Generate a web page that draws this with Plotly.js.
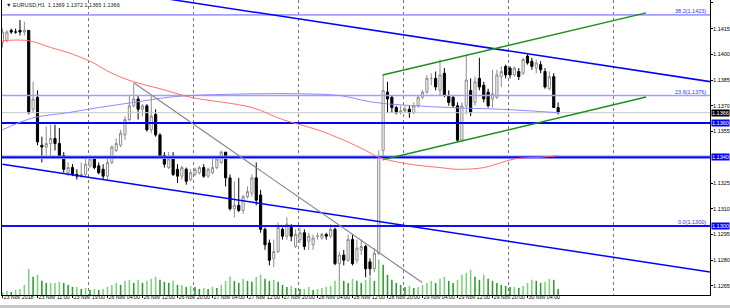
<!DOCTYPE html>
<html><head><meta charset="utf-8">
<script src="https://cdn.plot.ly/plotly-3.0.1.min.js"></script>
<style>html,body{margin:0;padding:0;background:#fff}#chart{width:730px;height:308px}</style>
</head><body><div id="chart"></div>
<script>
// bar index: 0 = 26 Nov 00:00 (H1 bars), first bar -20 = 23 Nov 03:00
const barStart = -20;
const openP = [
 1.1407,1.1408,1.1414,1.1413,1.1414,1.1413,1.1414,1.1368,
 1.1375,1.1347,1.1346,1.1348,1.1351,1.1348,1.1341,1.1331,
 1.1334,1.1330,1.1329,1.1330,1.1335,1.1339,1.1335,1.1333,
 1.1329,1.1337,1.1344,1.1347,1.1353,1.1362,1.1370,1.1374,
 1.1368,1.1370,1.1356,1.1365,1.1353,1.1341,1.1334,1.1340,
 1.1333,1.1329,1.1333,1.1327,1.1330,1.1331,1.1334,1.1329,
 1.1331,1.1334,1.1337,1.1343,1.1328,1.1310,1.1312,1.1309,
 1.1317,1.1319,1.1328,1.1318,1.1298,1.1290,1.1281,1.1285,
 1.1298,1.1294,1.1299,1.1288,1.1292,1.1296,1.1291,1.1289,
 1.1294,1.1293,1.1295,1.1294,1.1298,1.1278,1.1283,1.1280,
 1.1292,1.1280,1.1286,1.1288,1.1279,1.1275,1.1284,1.1344,
 1.1378,1.1375,1.1369,1.1366,1.1367,1.1368,1.1366,1.1370,
 1.1375,1.1378,1.1386,1.1386,1.1379,1.1389,1.1376,1.1375,
 1.1370,1.1350,1.1370,1.1379,1.1372,1.1386,1.1382,1.1378,
 1.1374,1.1375,1.1387,1.1393,1.1392,1.1388,1.1390,1.1389,
 1.1399,1.1396,1.1392,1.1394,1.1390,1.1380,1.1387,1.1369];
const highP = [
 1.1415,1.1414,1.1415,1.1415,1.1420,1.1419,1.1414,1.1384,
 1.1379,1.1352,1.1358,1.1359,1.1359,1.1357,1.1343,1.1337,
 1.1336,1.1333,1.1337,1.1339,1.1341,1.1340,1.1337,1.1336,
 1.1340,1.1347,1.1351,1.1356,1.1364,1.1376,1.1383,1.1376,
 1.1371,1.1371,1.1376,1.1368,1.1354,1.1343,1.1343,1.1343,
 1.1336,1.1335,1.1334,1.1333,1.1334,1.1335,1.1336,1.1334,
 1.1339,1.1340,1.1344,1.1343,1.1330,1.1326,1.1328,1.1318,
 1.1323,1.1330,1.1337,1.1321,1.1299,1.1292,1.1292,1.1302,
 1.1299,1.1305,1.1301,1.1298,1.1299,1.1298,1.1296,1.1295,
 1.1296,1.1296,1.1296,1.1301,1.1299,1.1285,1.1286,1.1295,
 1.1295,1.1292,1.1292,1.1289,1.1281,1.1287,1.1344,1.1388,
 1.1384,1.1376,1.1370,1.1370,1.1370,1.1370,1.1372,1.1376,
 1.1379,1.1388,1.1389,1.1390,1.1397,1.1392,1.1379,1.1376,
 1.1372,1.1372,1.1400,1.1386,1.1387,1.1398,1.1384,1.1380,
 1.1391,1.1391,1.1393,1.1394,1.1393,1.1393,1.1392,1.1398,
 1.1400,1.1398,1.1397,1.1396,1.1392,1.1390,1.1389,1.1372];
const lowP = [
 1.1404,1.1407,1.1412,1.1412,1.1411,1.1411,1.1365,1.1366,
 1.1347,1.1337,1.1341,1.1340,1.1344,1.1341,1.1331,1.1329,
 1.1329,1.1327,1.1328,1.1329,1.1334,1.1333,1.1330,1.1327,
 1.1327,1.1336,1.1343,1.1346,1.1350,1.1361,1.1369,1.1362,
 1.1364,1.1355,1.1354,1.1352,1.1339,1.1334,1.1333,1.1329,
 1.1325,1.1327,1.1324,1.1326,1.1329,1.1330,1.1328,1.1328,
 1.1330,1.1333,1.1336,1.1323,1.1309,1.1305,1.1308,1.1307,
 1.1316,1.1317,1.1312,1.1296,1.1286,1.1277,1.1276,1.1284,
 1.1292,1.1292,1.1291,1.1287,1.1290,1.1286,1.1286,1.1286,
 1.1292,1.1292,1.1292,1.1293,1.1277,1.1268,1.1277,1.1279,
 1.1277,1.1278,1.1283,1.1270,1.1271,1.1273,1.1283,1.1339,
 1.1366,1.1366,1.1365,1.1365,1.1366,1.1363,1.1365,1.1369,
 1.1374,1.1377,1.1382,1.1379,1.1376,1.1375,1.1370,1.1369,
 1.1349,1.1349,1.1365,1.1364,1.1370,1.1379,1.1372,1.1369,
 1.1369,1.1374,1.1381,1.1386,1.1386,1.1387,1.1385,1.1388,
 1.1394,1.1391,1.1389,1.1389,1.1380,1.1379,1.1369,1.1365];
const closeP = [
 1.1413,1.1413,1.1413,1.1413,1.1413,1.1414,1.1366,1.1374,
 1.1349,1.1346,1.1348,1.1351,1.1348,1.1341,1.1333,1.1334,
 1.1330,1.1329,1.1330,1.1336,1.1339,1.1334,1.1331,1.1329,
 1.1337,1.1346,1.1348,1.1354,1.1362,1.1370,1.1374,1.1368,
 1.1370,1.1356,1.1364,1.1353,1.1340,1.1336,1.1339,1.1330,
 1.1329,1.1334,1.1326,1.1331,1.1333,1.1334,1.1329,1.1333,
 1.1334,1.1339,1.1343,1.1328,1.1310,1.1312,1.1309,1.1317,
 1.1320,1.1328,1.1315,1.1298,1.1289,1.1280,1.1285,1.1299,
 1.1294,1.1301,1.1294,1.1295,1.1296,1.1288,1.1294,1.1293,
 1.1294,1.1295,1.1294,1.1298,1.1278,1.1283,1.1280,1.1292,
 1.1278,1.1287,1.1288,1.1275,1.1275,1.1284,1.1340,1.1379,
 1.1374,1.1369,1.1366,1.1367,1.1368,1.1366,1.1370,1.1375,
 1.1378,1.1386,1.1386,1.1381,1.1388,1.1376,1.1372,1.1370,
 1.1350,1.1370,1.1385,1.1366,1.1384,1.1381,1.1374,1.1370,
 1.1377,1.1388,1.1390,1.1388,1.1388,1.1392,1.1387,1.1397,
 1.1395,1.1393,1.1395,1.1391,1.1381,1.1387,1.1369,1.1366];
const volumes = [
 450,600,450,750,900,1500,3900,2700,
 3000,2100,1800,1800,1800,1950,1800,1500,
 1200,1200,900,1050,750,900,750,900,
 1200,1500,1800,1500,2100,2250,1800,2250,
 1800,2100,2400,2700,2250,1950,1800,2100,
 1500,1500,1200,1350,1200,900,1050,900,
 1200,1050,1500,2100,2700,2100,1800,2400,
 2100,1950,2700,3000,2400,2100,2250,1950,
 1500,1200,1350,1050,900,900,1200,750,
 900,1050,1200,1350,2100,2400,2100,1800,
 2400,2100,1800,2250,2700,2100,5250,4500,
 3000,2250,1800,1500,1200,1350,1050,1200,
 1500,1800,2100,1800,2400,2700,2100,1800,
 2250,3000,3300,3750,2700,2250,3000,2400,
 2100,1800,1500,1350,1200,1200,1050,1350,
 1800,2250,2100,1800,1950,2400,2250,900];

// moving averages, read at sample bars
const maRedX = [-20,-14,-9,-5,0,5,10,16,23,37,44,52,58,63,66,73,80,84,90,97,103,107];
const maRedY = [1.1408,1.1408,1.1404,1.1401,1.1396,1.1389,1.1384,1.1380,1.1375,1.1369,1.1362,1.1356,1.1350,1.1344,1.1340,1.1336,1.1334,1.1333,1.1334,1.1339,1.1340,1.1341];
const maBlueX = [-20,-13,-5,2,10,18,23,37,48,57,65,82,94,107];
const maBlueY = [1.1356,1.1363,1.1366,1.1369,1.1372,1.1375,1.1376,1.1377,1.1377,1.1376,1.1372,1.1369,1.1368,1.1366];

// drawn objects (bar index, price)
const chanBlueUpX = [-20,142], chanBlueUpY = [1.1447,1.1384];
const chanBlueLoX = [-20,142], chanBlueLoY = [1.1336,1.1273];
const trendGrayX = [10,75.9], trendGrayY = [1.13834,1.1267];
const chanGreenUpX = [66.9,127.1], chanGreenUpY = [1.1388,1.14242];
const chanGreenLoX = [66.9,127.1], chanGreenLoY = [1.13385,1.13752];
const fibLevels = [1.1423,1.1376,1.1300];
const fibText = ["38.2(1.1423)","23.6(1.1376)","0.0(1.1300)"];
const hLines = [1.1360,1.1340];
const lastPrice = 1.1366;
const boxLabels = [[1.1366,"#000000"],[1.1360,"#0000ff"],[1.1340,"#0000ff"],[1.1300,"#0000ff"]];

const priceTicks = [1.1430,1.1415,1.1400,1.1385,1.1370,1.1355,1.1325,1.1310,1.1295,1.1280,1.1265];
const timeTickX = [-20,-12,-4,4,12,20,28,36,44,52,60,68,76,84,92,100];
const timeTickText = ["23 Nov 2018","23 Nov 11:00","23 Nov 19:00","26 Nov 04:00","26 Nov 12:00","26 Nov 20:00","27 Nov 04:00","27 Nov 12:00","27 Nov 20:00","28 Nov 04:00","28 Nov 12:00","28 Nov 20:00","29 Nov 04:00","29 Nov 12:00","29 Nov 20:00","30 Nov 04:00"];
const daySepX = [-0.25,23.75,47.75,71.75,95.75,119.75];
const header = "▼ EURUSD,H1  1.1369 1.1372 1.1365 1.1366";

const X = openP.map((_, k) => barStart + k);
const XR = [-20.11, 141.71];
const YR = [1.12597, 1.14317];
const FONT = "Liberation Sans, Arial, sans-serif";

const volColors = volumes.map((v, k) => (k === 0 || v >= volumes[k-1]) ? "#7fd17f" : "#2f9a2f");

const traces = [];
function line(x, y, color, width, extra) {
  return Object.assign({type:"scatter", mode:"lines", x, y, line:{color, width}, hoverinfo:"skip", showlegend:false}, extra||{});
}
traces.push({type:"bar", x:X, y:volumes, yaxis:"y2", marker:{color:volColors, line:{width:0}}, width:0.36, hoverinfo:"skip", showlegend:false});
const full = [XR[0]-5, XR[1]+5];
traces.push(line(full, [lastPrice,lastPrice], "#c8c8c8", 1));
traces.push(line(full, [fibLevels[0],fibLevels[0]], "#9f9fff", 1.6));
traces.push(line(full, [fibLevels[1],fibLevels[1]], "#9f9fff", 1.6));
traces.push(line(full, [fibLevels[2],fibLevels[2]], "#1010ff", 2));
traces.push(line(full, [hLines[1],hLines[1]], "#8c8cff", 3.5));
traces.push(line(full, [hLines[1],hLines[1]], "#0000ff", 1.6));
traces.push(line(full, [hLines[0],hLines[0]], "#0000ff", 2));
traces.push(line(maRedX, maRedY, "#ff7070", 1, {line:{color:"#ff7070", width:1, shape:"spline"}, xaxis:"x2"}));
traces.push(line(maBlueX, maBlueY, "#8c8cff", 1, {line:{color:"#8c8cff", width:1, shape:"spline"}}));
traces.push(line(chanBlueUpX, chanBlueUpY, "#0000ff", 1.5));
traces.push(line(chanBlueLoX, chanBlueLoY, "#0000ff", 1.5));
traces.push(line(trendGrayX, trendGrayY, "#8a8a8a", 1.2));
traces.push(line(chanGreenUpX, chanGreenUpY, "#1a8f1a", 1.5));
traces.push(line(chanGreenLoX, chanGreenLoY, "#1a8f1a", 1.5));
traces.push({type:"candlestick", x:X, open:openP, high:highP, low:lowP, close:closeP,
  increasing:{line:{color:"#8c8c8c", width:1}, fillcolor:"#ffffff"},
  decreasing:{line:{color:"#000000", width:1}, fillcolor:"#000000"},
  whiskerwidth:0, hoverinfo:"skip", showlegend:false});

const annotations = [];
annotations.push({xref:"paper", yref:"paper", x:0, y:1, xanchor:"left", yanchor:"top", xshift:2, yshift:0,
  text:header, showarrow:false, font:{family:FONT, size:5.5, color:"#222"}});
fibLevels.forEach((p, k) => annotations.push({xref:"paper", yref:"y", x:1, y:p, xanchor:"right", yanchor:"bottom",
  xshift:-2, yshift:-1, text:fibText[k], showarrow:false, font:{family:FONT, size:5.5, color:"#3030ff"}}));
boxLabels.forEach(([p, c]) => annotations.push({xref:"paper", yref:"y", x:1, y:p, xanchor:"left", yanchor:"middle",
  xshift:1, text:p.toFixed(4), showarrow:false, bgcolor:c, borderpad:0, font:{family:FONT, size:5.5, color:"#fff"}}));

const layout = {
  width:730, height:308, margin:{l:2, r:20, t:0, b:13},
  paper_bgcolor:"#fff", plot_bgcolor:"#fff", showlegend:false,
  font:{family:FONT, size:5.3, color:"#000"},
  xaxis:{range:XR, tickvals:timeTickX, ticktext:timeTickText, ticks:"outside", ticklen:2, tickcolor:"#000", tickangle:0,
    ticklabelposition:"outside right", ticklabelstandoff:-3, showline:true, linecolor:"#000", linewidth:1, showgrid:false, zeroline:false,
    rangeslider:{visible:false}, tickfont:{family:FONT, size:5.3, color:"#000"}, fixedrange:true},
  xaxis2:{range:XR, overlaying:"x", tickvals:daySepX, showticklabels:false, ticks:"", showgrid:true,
    gridcolor:"#777", griddash:"dot", gridwidth:1, zeroline:false, showline:false, fixedrange:true},
  yaxis:{range:YR, side:"right", tickvals:priceTicks, ticktext:priceTicks.map(v=>v.toFixed(4)), ticks:"outside", ticklen:2,
    ticklabelstandoff:-1, tickcolor:"#000", showline:true, mirror:true, linecolor:"#000", linewidth:1, showgrid:false, zeroline:false,
    tickfont:{family:FONT, size:5.5, color:"#000"}, fixedrange:true},
  yaxis2:{range:[0, 43800], overlaying:"y", visible:false, fixedrange:true},
  annotations,
  shapes:[{type:"rect", xref:"paper", yref:"paper", x0:-0.01, x1:1.05, y0:-13/295, y1:-10/295, fillcolor:"#c8c8c8", line:{width:0}}]
};
Plotly.newPlot("chart", traces, layout, {staticPlot:true, displayModeBar:false});
</script></body></html>
